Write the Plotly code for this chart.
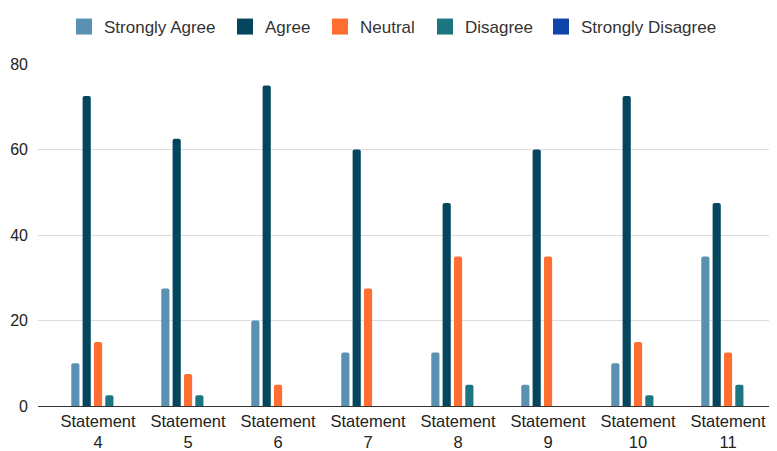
import plotly.graph_objects as go

categories = ["Statement<br>4", "Statement<br>5", "Statement<br>6", "Statement<br>7",
              "Statement<br>8", "Statement<br>9", "Statement<br>10", "Statement<br>11"]
strongly_agree = [10, 27.5, 20, 12.5, 12.5, 5, 10, 35]
agree = [72.5, 62.5, 75, 60, 47.5, 60, 72.5, 47.5]
neutral = [15, 7.5, 5, 27.5, 35, 35, 15, 12.5]
disagree = [2.5, 2.5, 0, 0, 5, 0, 2.5, 5]
strongly_disagree = [0, 0, 0, 0, 0, 0, 0, 0]
y_ticks = [0, 20, 40, 60, 80]

series_names = ["Strongly Agree", "Agree", "Neutral", "Disagree", "Strongly Disagree"]
series_values = [strongly_agree, agree, neutral, disagree, strongly_disagree]
series_colors = ["#5a90b1", "#05465f", "#ff6d31", "#1c7581", "#0f45a8"]
# left edge of each legend entry (px, figure coordinates)
legend_left = [56, 217, 312, 417, 533]

W, H = 769, 443  # page body has an 8px margin, so the figure sits at (8, 8)

fig = go.Figure()
for name, vals, col in zip(series_names, series_values, series_colors):
    fig.add_trace(go.Bar(x=categories, y=vals, name=name, showlegend=False,
                         legendgroup=name, marker=dict(color=col, line=dict(width=0))))

font = "Liberation Sans, Arial, sans-serif"
legend_layouts = {}
for i, (name, col) in enumerate(zip(series_names, series_colors)):
    key = "legend" if i == 0 else f"legend{i + 1}"
    fig.add_trace(go.Scatter(x=[None], y=[None], mode="markers", name=name, legendgroup=name,
                             legend=key, marker=dict(symbol="square", size=17, color=col)))
    legend_layouts[key] = dict(orientation="h", x=legend_left[i] / W, xanchor="left", xref="container",
                               y=1 - 19 / H, yanchor="middle", yref="container",
                               font=dict(size=17, color="#333333"), itemsizing="trace",
                               bgcolor="rgba(0,0,0,0)", borderwidth=0)

fig.update_layout(
    width=W, height=H,
    margin=dict(l=30, r=1, t=56, b=45, autoexpand=False),
    paper_bgcolor="white", plot_bgcolor="white",
    barmode="group", bargap=0.37, bargroupgap=0.28, barcornerradius=2,
    font=dict(family=font, size=16, color="#333333"),
    xaxis=dict(range=[-0.667, 7.533], showgrid=False, showline=True, linecolor="#333333",
               linewidth=1, ticks="", automargin=False, ticklabelstandoff=0,
               tickfont=dict(size=16.5, color="#222222")),
    yaxis=dict(range=[0, 80], tickvals=y_ticks, showgrid=True, gridcolor="#dcdcdc",
               zeroline=False, showline=False, ticks="", automargin=False,
               tickfont=dict(size=16, color="#222222"), ticklabelstandoff=9),
    **legend_layouts,
)
fig.write_html("out.html")
